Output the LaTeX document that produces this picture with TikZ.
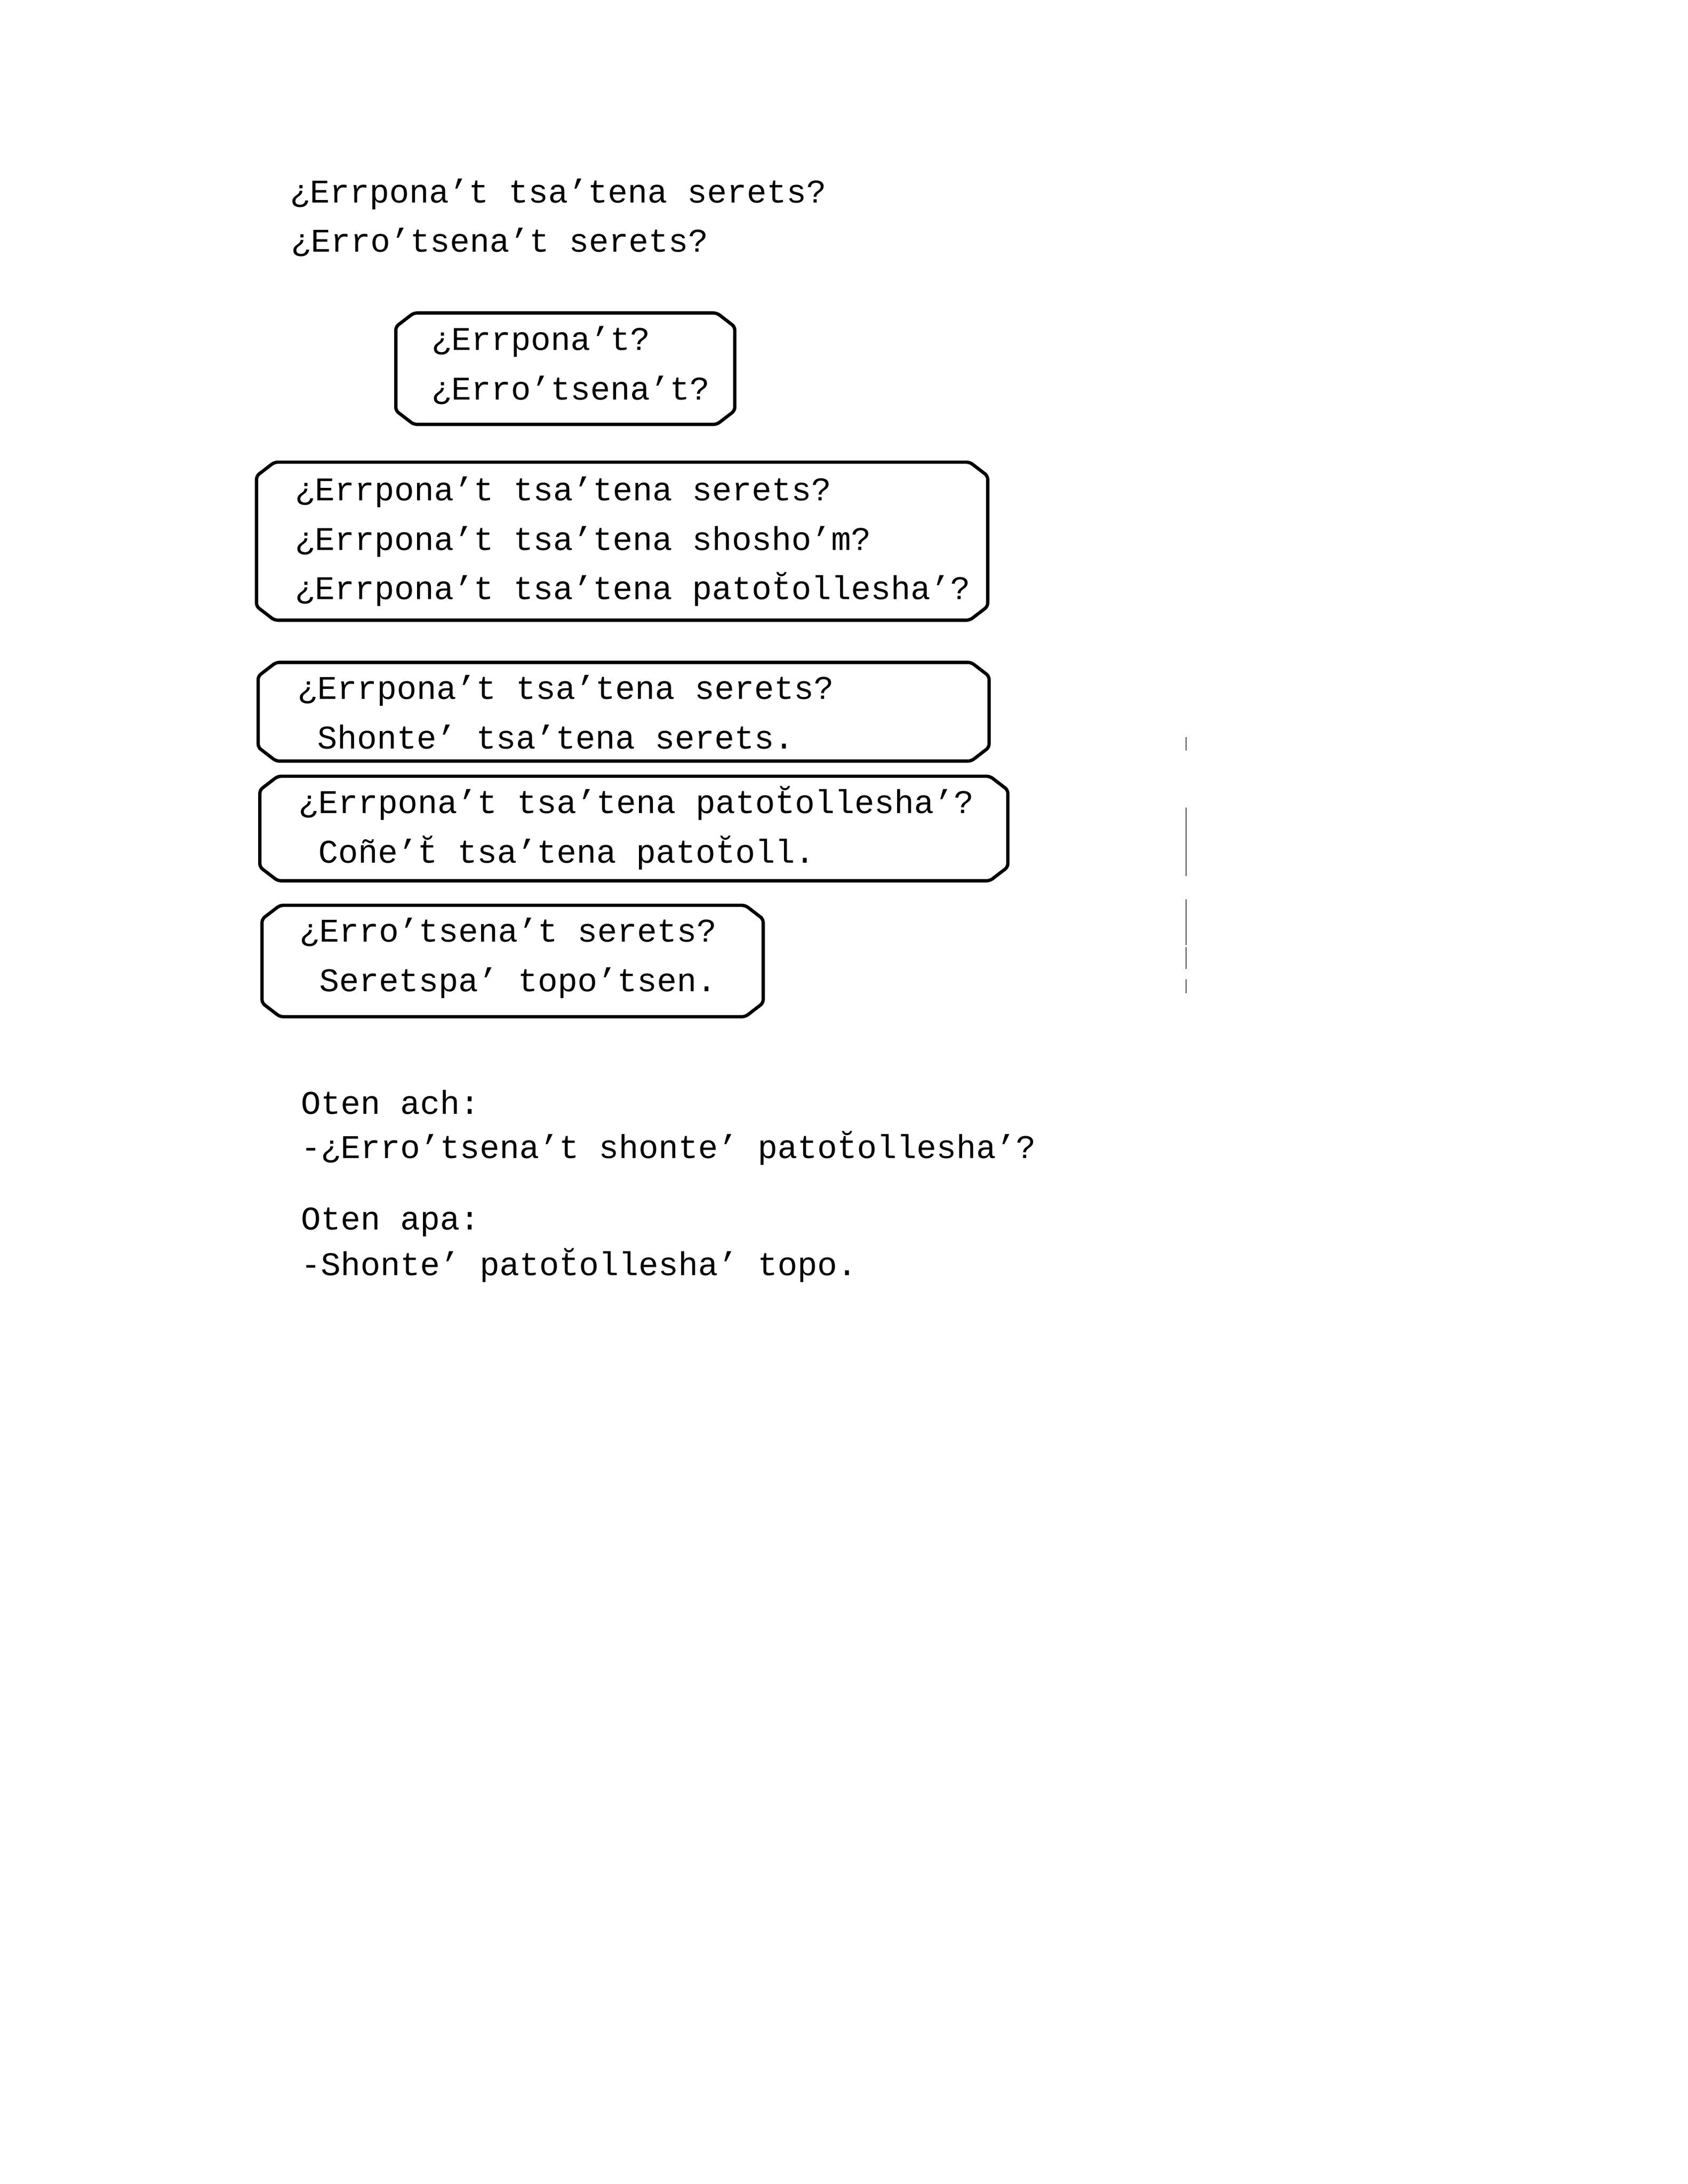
\documentclass[tikz,border=0pt]{standalone}
\usepackage{fontspec}
\newfontfamily\mono{Liberation Mono}

% t with a breve above it
\newcommand\tbrev{\ooalign{t\cr\hidewidth\smash{\raisebox{1.3pt}{˘}}\hidewidth\cr}}

\tikzset{
    qframe/.style={rectangle, inner sep=0pt, anchor=north west},
    qline/.style={line width=1.2pt, rounded corners=1.2pt},
    tline/.style={font=\mono\fontsize{12}{18}\selectfont, inner sep=0pt, anchor=base west}
}

\begin{document}
\begin{tikzpicture}[x=1pt, y=1pt]
    \fill[white] (0,0) rectangle (612,-792);
    \useasboundingbox (0,0) rectangle (612,-792);

    % questions at the top
    \node[tline] (top1) at (105,-73.5) {¿Errpona’t tsa’tena serets?};
    \node[tline] (top2) at (105.4,-91.3) {¿Erro’tsena’t serets?};

    % boxes
    \node[qframe, minimum width=122.5pt, minimum height=40pt] (b1) at (143.5,-113.5) {};
    \node[tline] (b1-1) at (156.3,-127) {¿Errpona’t?};
    \node[tline] (b1-2) at (156.3,-145) {¿Erro’tsena’t?};

    \node[qframe, minimum width=264.7pt, minimum height=56.9pt] (b2) at (93,-167.6) {};
    \node[tline] (b2-1) at (106.8,-181.5) {¿Errpona’t tsa’tena serets?};
    \node[tline] (b2-2) at (106.8,-199.5) {¿Errpona’t tsa’tena shosho’m?};
    \node[tline] (b2-3) at (106.8,-217.3) {¿Errpona’t tsa’tena pato\tbrev ollesha’?};

    \node[qframe, minimum width=264.6pt, minimum height=35.4pt] (b3) at (93.6,-240.2) {};
    \node[tline] (b3-1) at (107.7,-253.5) {¿Errpona’t tsa’tena serets?};
    \node[tline] (b3-2) at (114.9,-271.5) {Shonte’ tsa’tena serets.};

    \node[qframe, minimum width=270.8pt, minimum height=37.5pt] (b4) at (94.2,-281.5) {};
    \node[tline] (b4-1) at (108,-295) {¿Errpona’t tsa’tena pato\tbrev ollesha’?};
    \node[tline] (b4-2) at (115.2,-313) {Coñe’\tbrev{} tsa’tena pato\tbrev oll.};

    \node[qframe, minimum width=181.3pt, minimum height=40pt] (b5) at (95,-328.3) {};
    \node[tline] (b5-1) at (108.5,-341.5) {¿Erro’tsena’t serets?};
    \node[tline] (b5-2) at (115.7,-359.5) {Seretspa’ topo’tsen.};

    % cut corners round each box
    \foreach \b in {b1,b2,b3,b4,b5}
        \draw[qline] ([xshift=6.5pt]\b.north west) -- ([xshift=-6.5pt]\b.north east)
            -- ([yshift=-5pt]\b.north east) -- ([yshift=5pt]\b.south east)
            -- ([xshift=-6.5pt]\b.south east) -- ([xshift=6.5pt]\b.south west)
            -- ([yshift=5pt]\b.south west) -- ([yshift=-5pt]\b.north west) -- cycle;

    % dialogue
    \node[tline] (ach) at (109,-404) {Oten ach:};
    \node[tline] (achq) at (109,-420) {-¿Erro’tsena’t shonte’ pato\tbrev ollesha’?};
    \node[tline] (apa) at (109,-446) {Oten apa:};
    \node[tline] (apaa) at (109,-462.5) {-Shonte’ pato\tbrev ollesha’ topo.};

    % faint mark in the right margin
    \foreach \ya/\yb in {267.3/272.2, 292.9/317.7, 326.2/342.7, 343.4/351.4, 355.1/360.1}
        \draw[line width=0.4pt, black!70] (430,-\ya) -- (430,-\yb);
\end{tikzpicture}
\end{document}
